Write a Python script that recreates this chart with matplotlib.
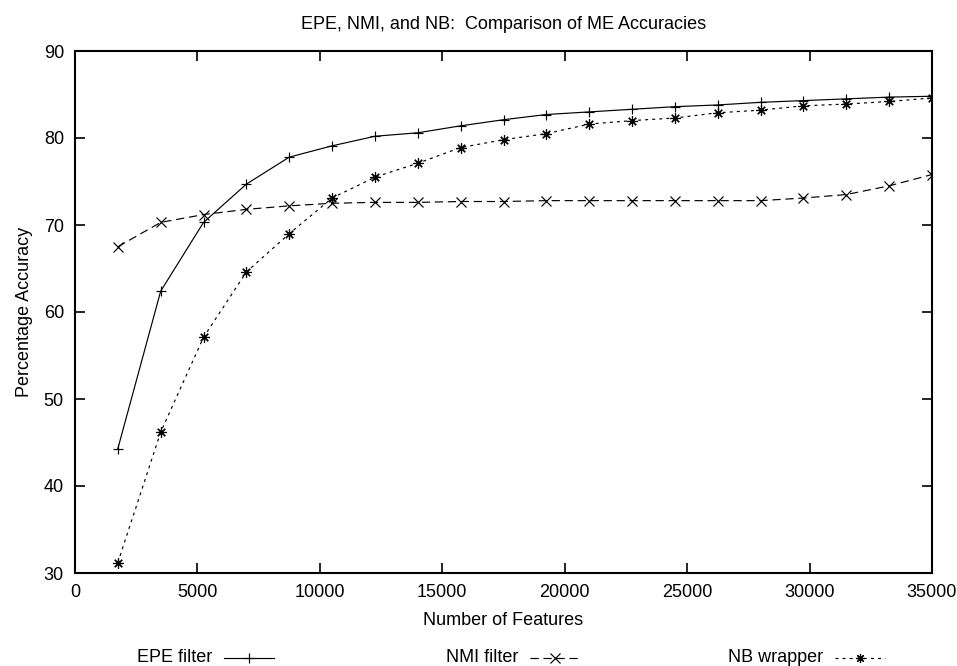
import numpy as np
import matplotlib
matplotlib.use('Agg')
import matplotlib.pyplot as plt
from matplotlib.lines import Line2D

plt.rcParams['font.family'] = ['Liberation Sans', 'DejaVu Sans']

# number of features used at each step
features = [1750 * (i + 1) for i in range(20)]

# accuracies (%) for each selection method
epe_filter = [44.3, 62.4, 70.3, 74.7, 77.8, 79.1, 80.2, 80.6, 81.4, 82.1,
              82.7, 83.0, 83.3, 83.6, 83.8, 84.1, 84.3, 84.5, 84.7, 84.8]
nmi_filter = [67.5, 70.3, 71.2, 71.8, 72.2, 72.5, 72.6, 72.6, 72.7, 72.7,
              72.8, 72.8, 72.8, 72.8, 72.8, 72.8, 73.1, 73.5, 74.5, 75.8]
nb_wrapper = [31.2, 46.2, 57.1, 64.6, 69.0, 73.1, 75.5, 77.1, 78.9, 79.8,
              80.5, 81.6, 82.0, 82.3, 82.9, 83.2, 83.7, 83.9, 84.2, 84.6]

labels = ['EPE filter', 'NMI filter', 'NB wrapper']
styles = [dict(ls='-', marker='+'),
          dict(ls=(0, (7, 4)), marker='x'),
          dict(ls=(0, (2.5, 3.5)), marker=(8, 2, 0))]

fig = plt.figure(figsize=(9.57, 6.66), dpi=100)
ax = fig.add_axes([75/957, 1-573/666, (932-75)/957, (573-51)/666])

for ys, st in zip([epe_filter, nmi_filter, nb_wrapper], styles):
    ax.plot(features, ys, color='black', lw=0.85, ms=7.5, mew=0.85, **st)

ax.set_xlim(0, 35000)
ax.set_ylim(30, 90)
ax.set_xticks(np.arange(0, 35001, 5000))
ax.set_yticks(np.arange(30, 91, 10))
ax.tick_params(direction='in', length=7, width=1.2, top=True, right=True,
               labelsize=13, pad=8)
for s in ax.spines.values():
    s.set_linewidth(1.5)

ax.set_title('EPE, NMI, and NB:  Comparison of ME Accuracies', fontsize=13, pad=16)
ax.set_xlabel('Number of Features', fontsize=13, labelpad=8)
ax.set_ylabel('Percentage Accuracy', fontsize=13, labelpad=8)

# key along the bottom: text then a short sample of each line
key_text_end = [212, 518, 823]
key_y = 1 - 658/666
for lab, st, xe in zip(labels, styles, key_text_end):
    fig.text(xe/957, key_y, lab, ha='right', va='center', fontsize=13)
    x0, x1 = (xe + 12)/957, (xe + 62)/957
    fig.add_artist(Line2D([x0, x1], [key_y, key_y], color='black', lw=0.85,
                          ls=st['ls'], transform=fig.transFigure))
    fig.add_artist(Line2D([(x0 + x1)/2], [key_y], color='black', ls='none',
                          marker=st['marker'], ms=6.5, mew=0.85,
                          transform=fig.transFigure))

fig.savefig('out.png', dpi=100)
